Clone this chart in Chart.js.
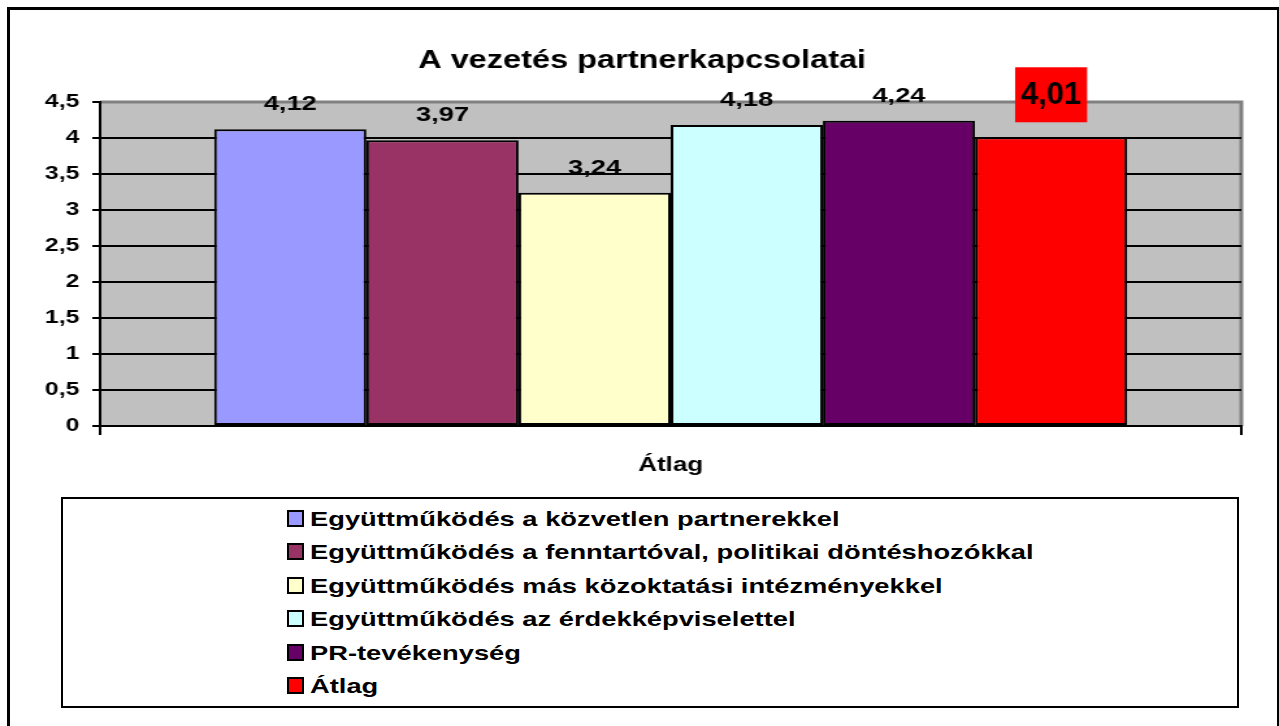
<!DOCTYPE html>
<html>
<head>
<meta charset="utf-8">
<script src="https://cdn.jsdelivr.net/npm/chart.js@4"></script>
<style>
    body { margin: 0; background: #fff; font-family: "Liberation Sans", Arial, sans-serif; }
    #frame { position: absolute; left: 7px; top: 7px; width: 1267px; height: 730px; border: 3px solid #000; }
    #chart { position: absolute; left: 0; top: 0; }
    #legend { position: absolute; left: 61px; top: 497px; width: 1174px; height: 207px; border: 2px solid #000; }
    .item { position: absolute; left: 224px; height: 33px; line-height: 33px; font-weight: bold; font-size: 21px; white-space: nowrap; }
    .swatch { display: inline-block; width: 13px; height: 13px; border: 2px solid #000; vertical-align: -1px; margin-right: 6px; }
    .txt { display: inline-block; transform: scaleX(1.3); transform-origin: left center; }
</style>
</head>
<body>
<div id="frame"></div>
<!-- the original picture is stretched sideways, so the canvas is too -->
<canvas id="chart" width="984" height="490" style="width:1279px;height:490px"></canvas>
<div id="legend"></div>
<script>
// Chart data
const categories = ['Átlag'];
const seriesNames = [
    'Együttműködés a közvetlen partnerekkel',
    'Együttműködés a fenntartóval, politikai döntéshozókkal',
    'Együttműködés más közoktatási intézményekkel',
    'Együttműködés az érdekképviselettel',
    'PR-tevékenység',
    'Átlag'
];
const seriesValues = [4.12, 3.97, 3.24, 4.18, 4.24, 4.01];
const seriesColors = ['#9999FF', '#993366', '#FFFFCC', '#CCFFFF', '#660066', '#FF0000'];
const yTicks = [0, 0.5, 1, 1.5, 2, 2.5, 3, 3.5, 4, 4.5];

const FONT = '"Liberation Sans", Arial, sans-serif';
const STRETCH = 1279 / 984;

function fmt(v) {
    return String(v).replace('.', ',');
}

// Gray plot background + gray top/right border
const plotBg = {
    id: 'plotBg',
    beforeDraw(chart) {
        const a = chart.chartArea, c = chart.ctx;
        c.save();
        c.fillStyle = '#C0C0C0';
        c.fillRect(a.left, a.top, a.right - a.left, a.bottom - a.top);
        c.strokeStyle = '#808080';
        c.lineWidth = 3;
        c.beginPath();
        c.moveTo(a.left, a.top);
        c.lineTo(a.right, a.top);
        c.lineTo(a.right, a.bottom);
        c.stroke();
        c.restore();
    }
};

// Value labels above bars
const valueLabels = {
    id: 'valueLabels',
    afterDatasetsDraw(chart) {
        const c = chart.ctx;
        chart.data.datasets.forEach((ds, i) => {
            const bar = chart.getDatasetMeta(i).data[0];
            const txt = fmt(ds.data[0]);
            c.save();
            c.textAlign = 'center';
            c.textBaseline = 'middle';
            if (i === chart.data.datasets.length - 1) {
                // the average gets a bigger, boxed label (not stretched)
                const cy = bar.y - 43;
                c.translate(bar.x, cy);
                c.scale(1 / STRETCH, 1);
                c.fillStyle = '#FF0000';
                c.fillRect(-36, -27, 72, 55);
                c.font = 'bold 31px ' + FONT;
                c.fillStyle = '#000';
                c.fillText(txt, 0, 1);
            } else {
                c.font = 'bold 21px ' + FONT;
                c.fillStyle = '#000';
                c.fillText(txt, bar.x, bar.y - 25);
            }
            c.restore();
        });
    }
};

const ctx = document.getElementById('chart').getContext('2d');
const chart = new Chart(ctx, {
    type: 'bar',
    data: {
        labels: categories,
        datasets: seriesNames.map((name, i) => ({
            label: name,
            data: [seriesValues[i]],
            backgroundColor: seriesColors[i],
            borderColor: '#000',
            borderWidth: 2,
            borderSkipped: false,
            categoryPercentage: 0.8,
            barPercentage: 1
        }))
    },
    options: {
        responsive: false,
        animation: false,
        devicePixelRatio: 1,
        layout: { padding: { left: 33, right: 29, top: 0, bottom: 0 } },
        plugins: {
            legend: { display: false },
            tooltip: { enabled: false },
            title: {
                display: true,
                text: 'A vezetés partnerkapcsolatai',
                color: '#000',
                font: { family: FONT, size: 25, weight: 'bold', lineHeight: 1.2 },
                padding: { top: 46, bottom: 26 }
            }
        },
        scales: {
            x: {
                offset: true,
                grid: { offset: true, drawOnChartArea: false, color: '#000', lineWidth: 2, tickLength: 9 },
                border: { color: '#000', width: 2 },
                ticks: { color: '#000', padding: 18, font: { family: FONT, size: 20, weight: 'bold' } },
                afterFit(scale) { scale.height = 64; }
            },
            y: {
                min: 0,
                max: 4.5,
                afterBuildTicks(scale) { scale.ticks = yTicks.map(v => ({ value: v })); },
                grid: {
                    color: c => (c.tick && c.tick.value === 4.5) ? 'rgba(0,0,0,0)' : '#000',
                    lineWidth: 2,
                    tickLength: 6,
                    tickColor: '#000'
                },
                border: { color: '#000', width: 2 },
                ticks: {
                    color: '#000',
                    padding: 10,
                    font: { family: FONT, size: 19, weight: 'bold' },
                    callback: v => fmt(v)
                },
                afterFit(scale) { scale.width = 44; }
            }
        }
    },
    plugins: [plotBg, valueLabels]
});

// HTML legend built from the series arrays
const legend = document.getElementById('legend');
seriesNames.forEach((name, i) => {
    const row = document.createElement('div');
    row.className = 'item';
    row.style.top = (3 + i * 33.4) + 'px';
    row.innerHTML = '<span class="swatch" style="background:' + seriesColors[i] + '"></span>' +
        '<span class="txt">' + name + '</span>';
    legend.appendChild(row);
});
</script>
</body>
</html>
